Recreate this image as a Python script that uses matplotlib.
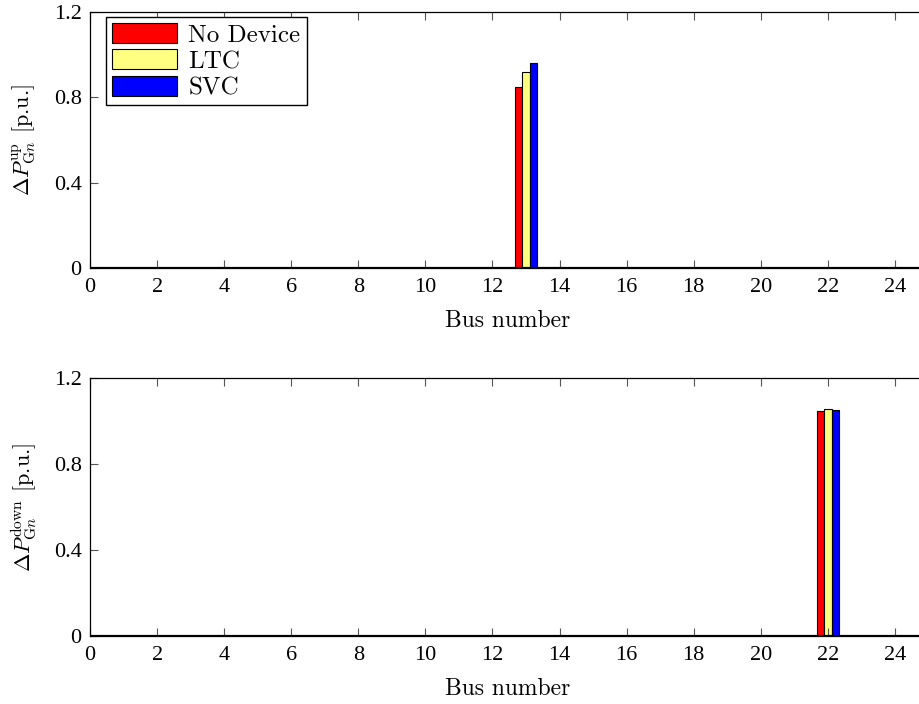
import numpy as np
import matplotlib
matplotlib.use("Agg")
import matplotlib.pyplot as plt

plt.rcParams['mathtext.fontset'] = 'cm'

# data: IEEE RTS 24-bus, generator reserve per bus
buses = list(range(1, 25))
series_names = ["No Device", "LTC", "SVC"]
colors = ["#ff0000", "#ffff80", "#0000ff"]

up_bus = 13
up_vals = [0.85, 0.92, 0.96]
down_bus = 22
down_vals = [1.045, 1.055, 1.05]

yticks = [0, 0.4, 0.8, 1.2]
yticklabels = ["0", "0.4", "0.8", "1.2"]
xticks = list(range(0, 25, 2))

def series_values(bus, vals):
    out = []
    for v in vals:
        arr = np.zeros(len(buses))
        arr[buses.index(bus)] = v
        out.append(arr)
    return out

fig = plt.figure(figsize=(9.2, 7.04), dpi=100)
W, H = 920, 704
px_per_unit = 33.54
xmax = 25
ax_w = xmax * px_per_unit
ax1 = fig.add_axes([90 / W, 1 - 268 / H, ax_w / W, 256 / H])
ax2 = fig.add_axes([90 / W, 1 - 636 / H, ax_w / W, 258 / H])

tick_font = dict(family="Liberation Serif", size=16)
label_font = dict(family="cmr10", size=17)

bw = 0.222
offsets = [-bw, 0, bw]
for ax, bus, vals, ylab, hpx in [(ax1, up_bus, up_vals, r"$\Delta P_{\mathrm{G}n}^{\mathrm{up}}$ [p.u.]", 256),
                                 (ax2, down_bus, down_vals, r"$\Delta P_{\mathrm{G}n}^{\mathrm{down}}$ [p.u.]", 258)]:
    data = series_values(bus, vals)
    for k, (arr, c, name) in enumerate(zip(data, colors, series_names)):
        ax.bar(np.array(buses) + offsets[k], arr, width=bw, color=c,
               edgecolor="black", linewidth=0.8, label=name)
    ax.axhline(0, color="black", linewidth=1.6, zorder=5)
    ax.set_xlim(0, xmax)
    ax.set_ylim(0, 1.2)
    ax.set_xticks(xticks)
    ax.set_xticklabels([str(t) for t in xticks], fontdict=tick_font)
    ax.set_yticks(yticks)
    ax.set_yticklabels(yticklabels, fontdict=tick_font)
    ax.tick_params(direction="in", length=6, width=0.8, color="#555555",
                   top=True, right=True)
    ax.tick_params(axis="x", pad=7)
    ax.tick_params(axis="y", pad=6)
    for s in ax.spines.values():
        s.set_linewidth(0.9)
    ax.set_xlabel("Bus number", fontdict=label_font, va="center")
    ax.xaxis.set_label_coords(418 / ax_w, -53 / hpx)
    ax.set_ylabel(ylab, fontsize=16, family="cmr10", va="center")
    ax.yaxis.set_label_coords(-66 / ax_w, 0.5)

leg = ax1.legend(loc="upper left", bbox_to_anchor=(0.019, 0.98), borderaxespad=0,
                 prop=dict(family="cmr10", size=18),
                 handlelength=2.6, handleheight=0.85, handletextpad=0.45, labelspacing=0.1,
                 borderpad=0.25, fancybox=False, edgecolor="black", framealpha=1)
leg.get_frame().set_linewidth(1.0)

fig.savefig("out.png", dpi=100)
